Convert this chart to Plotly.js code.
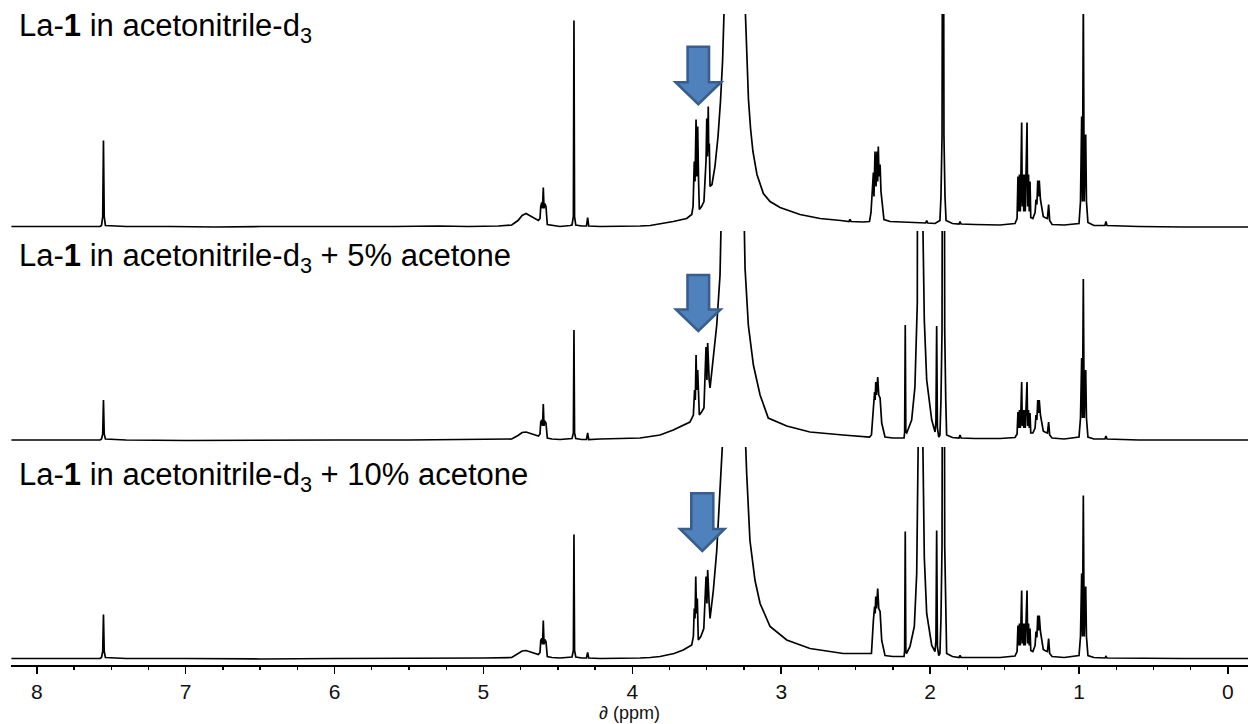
<!DOCTYPE html>
<html><head><meta charset="utf-8">
<script src="https://cdn.plot.ly/plotly-3.0.1.min.js"></script>
<style>html,body{margin:0;padding:0;background:#fff;overflow:hidden}</style>
</head><body>
<div id="chart" style="width:1248px;height:724px"></div>
<script>
// ---- data: [chemical shift (ppm), intensity above baseline] ----
const spectrumPure = [
[8.17,0],[7.90,0],[7.70,0.5],[7.575,0],[7.565,1],[7.557,10],[7.552,86],[7.547,10],[7.539,1],[7.40,0],
[7.10,0],[6.80,-0.5],[6.50,0],[6.20,0],[5.90,-0.5],[5.60,0],[5.30,0.5],[5.10,0],[4.90,0.5],[4.81,1.5],
[4.768,6],[4.740,11],[4.714,13],[4.690,11],[4.660,8],[4.631,6],[4.620,8],[4.615,20],[4.608,24],[4.603,18],
[4.598,39],[4.593,18],[4.588,23],[4.580,20],[4.571,2],[4.540,1],[4.486,0],[4.418,1],[4.405,1.5],[4.396,10],
[4.392,206],[4.388,10],[4.380,1.5],[4.340,0.5],[4.308,0.5],[4.300,9],[4.293,0.5],[4.217,0],[4.10,0],[3.948,0.5],
[3.880,1],[3.814,2.5],[3.725,5],[3.635,8],[3.601,12],[3.592,20],[3.584,65],[3.579,45],[3.572,107],[3.567,50],
[3.561,100],[3.555,45],[3.550,17],[3.535,20],[3.519,25],[3.505,66],[3.500,108],[3.495,70],[3.490,120],[3.487,75],
[3.483,83],[3.478,40],[3.465,42],[3.445,60],[3.4245,90],[3.408,125],[3.394,165],[3.384,215],[3.310,900],[3.241,215],
[3.232,170],[3.220,127],[3.206,98],[3.190,75],[3.163,52],[3.120,33],[3.075,25],[3.008,19],[2.874,12],[2.739,8],
[2.600,6],[2.545,5],[2.538,7],[2.531,5],[2.450,4.5],[2.407,5],[2.397,14],[2.381,54],[2.377,30],[2.370,75],
[2.363,40],[2.357,75],[2.352,45],[2.348,80],[2.343,50],[2.336,62],[2.330,35],[2.323,22],[2.310,7],[2.269,5],
[2.150,4],[2.030,3.5],[2.023,6],[2.016,3.5],[1.967,3],[1.934,6],[1.927,30],[1.920,90],[1.913,600],[1.907,90],
[1.900,30],[1.893,6],[1.850,3],[1.806,2.5],[1.799,5],[1.792,2.5],[1.700,2],[1.531,1.5],[1.430,3],[1.416,8],
[1.410,50],[1.405,15],[1.400,52],[1.394,15],[1.390,52],[1.385,104],[1.381,20],[1.376,52],[1.371,15],[1.366,52],
[1.361,15],[1.355,52],[1.349,104],[1.345,20],[1.339,52],[1.334,15],[1.329,45],[1.324,9],[1.310,8],[1.295,14],
[1.289,27],[1.283,22],[1.277,46],[1.272,30],[1.267,46],[1.259,27],[1.251,20],[1.240,10],[1.229,9],[1.212,8],
[1.204,22],[1.197,6],[1.181,2],[1.100,1.5],[1.000,3],[0.990,25],[0.982,110],[0.977,25],[0.971,230],[0.965,25],
[0.955,92],[0.950,25],[0.940,4],[0.900,1],[0.826,1],[0.819,5],[0.812,1],[0.600,0],[0.300,-0.5],[0.000,-0.5],[-0.135,-0.5]
];

const spectrumAcetone5 = [
[8.17,0],[7.90,0],[7.70,0],[7.575,0],[7.565,1],[7.557,6],[7.552,40],[7.547,6],[7.539,1],[7.40,0],
[7.00,-0.5],[6.50,0],[6.00,0],[5.50,0],[5.00,0.5],[4.81,1],[4.768,4.5],[4.740,7.5],[4.714,8],[4.690,7],
[4.660,5],[4.631,4],[4.620,6],[4.615,18],[4.608,20],[4.603,14],[4.598,36],[4.593,14],[4.588,19],[4.580,17],
[4.571,2],[4.540,1],[4.486,0.5],[4.418,1],[4.405,1.5],[4.396,7],[4.392,110],[4.388,7],[4.380,1.5],[4.340,0.5],
[4.308,0.5],[4.300,7],[4.293,0.5],[4.217,1],[4.10,1.5],[3.948,2],[3.814,5],[3.725,10],[3.613,18],[3.590,25],
[3.582,50],[3.577,40],[3.572,85],[3.567,50],[3.561,70],[3.555,40],[3.550,25],[3.535,28],[3.519,32],[3.505,93],
[3.499,60],[3.494,97],[3.488,70],[3.484,60],[3.478,52],[3.456,82],[3.433,115],[3.411,165],[3.390,230],[3.310,900],
[3.250,230],[3.243,172],[3.221,115],[3.187,75],[3.142,45],[3.087,22],[2.963,14],[2.807,8],[2.585,5],[2.450,3],
[2.407,3],[2.394,5],[2.381,33],[2.373,48],[2.369,40],[2.365,58],[2.360,45],[2.352,63],[2.345,45],[2.336,42],
[2.325,17],[2.303,3],[2.250,2],[2.210,2],[2.175,2],[2.171,8],[2.167,115],[2.163,8],[2.157,7],[2.124,20],
[2.102,53],[2.086,137],[2.079,230],[2.0645,3000],[2.050,230],[2.039,120],[2.023,60],[1.989,20],[1.967,8],[1.961,18],
[1.956,114],[1.951,12],[1.942,3],[1.934,5],[1.927,40],[1.920,110],[1.911,900],[1.902,110],[1.895,40],[1.889,5],
[1.850,2.5],[1.806,2],[1.799,5],[1.792,2],[1.700,1.5],[1.530,1.5],[1.430,2.5],[1.416,6],[1.410,28],[1.405,12],
[1.400,30],[1.394,12],[1.390,30],[1.385,58],[1.381,14],[1.376,30],[1.371,12],[1.366,30],[1.361,12],[1.355,30],
[1.349,58],[1.345,14],[1.339,30],[1.334,12],[1.329,27],[1.324,7],[1.310,7],[1.295,12],[1.289,25],[1.283,20],
[1.277,40],[1.272,27],[1.267,40],[1.259,25],[1.251,18],[1.240,9],[1.229,8],[1.212,7],[1.204,18],[1.197,5],
[1.181,2],[1.100,1],[1.000,3],[0.990,22],[0.982,82],[0.977,22],[0.971,161],[0.965,22],[0.955,70],[0.950,22],
[0.940,3],[0.900,1],[0.826,1],[0.819,4],[0.812,1],[0.600,0],[0.300,0],[0.000,0],[-0.135,0]
];

const spectrumAcetone10 = [
[8.17,0],[7.90,0],[7.70,0],[7.575,0],[7.565,1],[7.557,7],[7.552,44],[7.547,7],[7.539,1],[7.40,0],
[7.00,0],[6.50,-0.5],[6.00,0],[5.50,0],[5.00,0.5],[4.81,1],[4.768,4.5],[4.740,7.5],[4.714,8],[4.690,7],
[4.660,5],[4.631,4],[4.620,6],[4.615,18],[4.608,20],[4.603,14],[4.598,38],[4.593,14],[4.588,19],[4.580,17],
[4.571,2],[4.540,1],[4.486,0.5],[4.418,1],[4.405,1.5],[4.396,8],[4.392,124],[4.388,8],[4.380,1.5],[4.340,0.5],
[4.308,0.5],[4.300,6],[4.293,0.5],[4.217,0],[4.10,0],[3.948,0.5],[3.880,1],[3.814,2],[3.720,5],[3.658,8.5],
[3.601,13.5],[3.590,22],[3.584,50],[3.579,40],[3.574,82],[3.569,45],[3.5635,60],[3.557,18.5],[3.540,22],[3.520,30],
[3.505,82],[3.499,55],[3.494,88.5],[3.488,60],[3.484,55],[3.478,40],[3.456,68],[3.433,108],[3.411,162],[3.389,230],
[3.310,900],[3.243,230],[3.232,185],[3.210,118],[3.176,78],[3.142,55],[3.075,32],[2.963,18.5],[2.807,10],[2.583,5],
[2.426,5],[2.394,5],[2.381,38],[2.373,52],[2.369,45],[2.365,62],[2.360,50],[2.352,70],[2.345,50],[2.336,47],
[2.325,18],[2.303,3],[2.250,2],[2.210,2],[2.175,2],[2.171,8],[2.167,127],[2.163,8],[2.159,5],[2.135,12],
[2.106,32],[2.090,85],[2.079,230],[2.0645,3000],[2.050,230],[2.039,101],[2.023,45],[1.989,13],[1.967,7],[1.961,18],
[1.956,128],[1.951,12],[1.942,3],[1.934,5],[1.927,40],[1.920,113],[1.911,900],[1.902,113],[1.895,40],[1.889,5],
[1.850,2],[1.806,1],[1.799,3],[1.792,1],[1.700,1],[1.530,1],[1.430,2.5],[1.416,7],[1.410,33],[1.405,13],
[1.400,35],[1.394,13],[1.390,35],[1.385,68],[1.381,15],[1.376,35],[1.371,13],[1.366,35],[1.361,13],[1.355,35],
[1.349,68],[1.345,15],[1.339,35],[1.334,13],[1.329,30],[1.324,8],[1.310,7],[1.295,13],[1.289,27],[1.283,21],
[1.277,43],[1.272,28],[1.267,43],[1.259,27],[1.251,19],[1.240,9],[1.229,8],[1.212,7],[1.204,20],[1.197,5],
[1.181,2],[1.100,1],[1.000,3],[0.990,22],[0.982,85],[0.977,22],[0.971,163],[0.965,22],[0.955,72],[0.950,22],
[0.940,3],[0.900,1],[0.826,0.5],[0.819,2],[0.812,0.5],[0.600,0],[0.300,0],[0.000,0],[-0.135,0]
];

const spectrumLabels = [
  "La-<b>1</b> in acetonitrile-d<sub>3</sub>",
  "La-<b>1</b> in acetonitrile-d<sub>3</sub> + 5% acetone",
  "La-<b>1</b> in acetonitrile-d<sub>3</sub> + 10% acetone"
];
const xTitle = "∂ (ppm)";

// ---- layout geometry (pixels of the 1248x724 figure) ----
const L = 11, T = 14, W = 1237, H = 651; // plot area
const FONT = "Liberation Sans, Arial, Helvetica, sans-serif";
function px2paper(px, py) { return [(px - L) / W, (T + H - py) / H]; }
function pathFrom(pts) {
  return 'M' + pts.map(p => { const q = px2paper(p[0], p[1]); return q[0].toFixed(5) + ',' + q[1].toFixed(5); }).join(' L') + ' Z';
}
function arrow(cx, top, headY, tipY, shaftHalf, headHalf) {
  return {
    type: 'path', xref: 'paper', yref: 'paper', layer: 'above',
    path: pathFrom([[cx - shaftHalf, top], [cx + shaftHalf, top], [cx + shaftHalf, headY], [cx + headHalf, headY],
                    [cx, tipY], [cx - headHalf, headY], [cx - shaftHalf, headY]]),
    fillcolor: '#4F81BD', line: { color: '#3A5E8C', width: 2.6 }
  };
}

function trace(pairs, yaxis) {
  return {
    x: pairs.map(p => p[0]), y: pairs.map(p => p[1]),
    type: 'scatter', mode: 'lines', yaxis: yaxis,
    line: { color: '#000000', width: 1.7 }, hoverinfo: 'skip', showlegend: false
  };
}

const data = [
  trace(spectrumPure, 'y'),
  trace(spectrumAcetone5, 'y2'),
  trace(spectrumAcetone10, 'y3')
];

function dom(pTop, pBot) { return [(T + H - pBot) / H, (T + H - pTop) / H]; }

const labelY = [28, 258, 477];
const annotations = spectrumLabels.map((t, i) => ({
  text: t, xref: 'paper', yref: 'paper', x: px2paper(17, 0)[0], y: px2paper(0, labelY[i])[1],
  xanchor: 'left', yanchor: 'middle', showarrow: false, align: 'left',
  font: { family: FONT, size: 31, color: '#000' }
}));

const layout = {
  width: 1248, height: 724,
  margin: { l: L, r: 0, t: T, b: 724 - T - H, pad: 0 },
  paper_bgcolor: '#fff', plot_bgcolor: '#fff',
  showlegend: false,
  font: { family: FONT, color: '#000' },
  xaxis: {
    range: [8.173, -0.135], anchor: 'y3', showgrid: false, zeroline: false,
    showline: true, linecolor: '#000', linewidth: 1.6,
    tickmode: 'linear', tick0: 0, dtick: 1,
    ticks: 'outside', ticklen: 7, tickwidth: 1.6, tickcolor: '#000',
    tickfont: { family: FONT, size: 21, color: '#111' },
    minor: { tickmode: 'linear', tick0: 0, dtick: 0.25, ticks: 'outside', ticklen: 3.5, tickwidth: 1.3, tickcolor: '#000', showgrid: false },
    title: { text: xTitle, font: { family: FONT, size: 18, color: '#111' }, standoff: 4 },
    automargin: false, fixedrange: true
  },
  yaxis:  { domain: dom(14, 229),  range: [-2.5, 212.5], visible: false, fixedrange: true },
  yaxis2: { domain: dom(231, 444), range: [-4, 209],     visible: false, fixedrange: true },
  yaxis3: { domain: dom(447, 665), range: [-6.5, 211.5], visible: false, fixedrange: true },
  annotations: annotations,
  shapes: [
    arrow(698.3, 46.7, 82.3, 104.3, 10.7, 22.7),
    arrow(698.3, 275, 309.5, 331, 10.8, 22.2),
    arrow(702.3, 493.3, 529, 551, 11, 22.2)
  ]
};

Plotly.newPlot('chart', data, layout, { displayModeBar: false, staticPlot: true });
</script>
</body></html>
